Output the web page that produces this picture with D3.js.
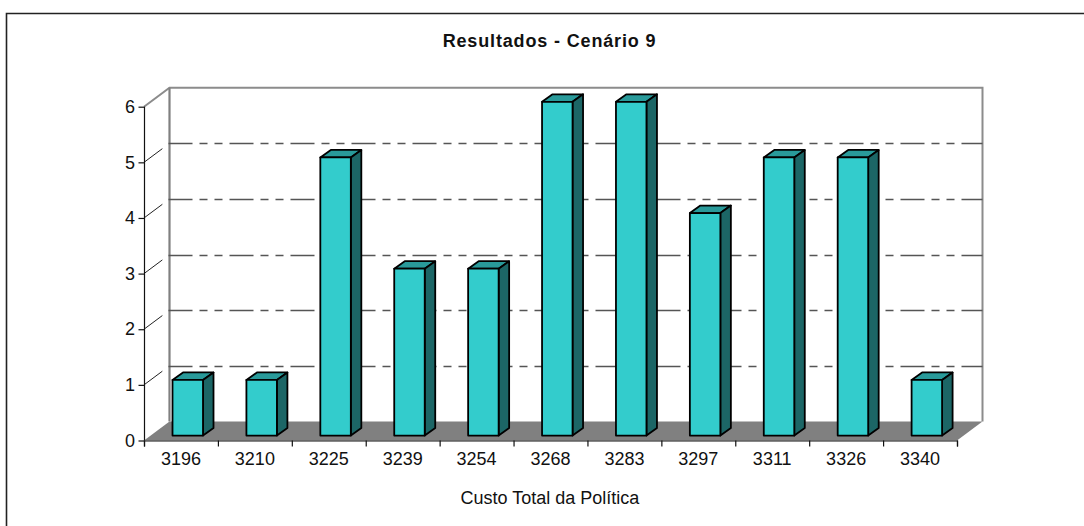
<!DOCTYPE html>
<html>
<head>
<meta charset="utf-8">
<script src="https://cdn.jsdelivr.net/npm/d3@7"></script>
<style>
  html, body { margin: 0; padding: 0; background: #fff; }
  svg { display: block; }
  text { font-family: "Liberation Sans", Arial, sans-serif; fill: #111; }
</style>
</head>
<body>
<svg id="chart" width="1084" height="526"></svg>
<script>
// Histogram of total policy cost, drawn as a pseudo-3D column chart.
const categories = ["3196","3210","3225","3239","3254","3268","3283","3297","3311","3326","3340"];
const counts = [1, 1, 5, 3, 3, 6, 6, 4, 5, 5, 1];
const valueTicks = [0, 1, 2, 3, 4, 5, 6];
const chartTitle = "Resultados - Cenário 9";
const axisTitle = "Custo Total da Política";

const frontLeft = 144, frontRight = 957, frontBase = 440.5, frontTop = 106.7;
const wallDx = 25.5, wallDy = -19;          // offset of the back wall from the front plane
const barShiftX = 6.8, barShiftY = -4.9;    // bars stand slightly behind the front plane
const barWidth = 30.5, barDx = 10.5, barDy = -7.5;

const svg = d3.select("#chart");
const x = d3.scaleBand().domain(categories).range([frontLeft, frontRight]);
const xEdges = d3.scalePoint().domain(d3.range(categories.length + 1)).range([frontLeft, frontRight]);
const y = d3.scaleLinear().domain([0, 6]).range([frontBase, frontTop]);

// Chart frame: only the top and left edges fall inside the page
svg.append("path")
  .attr("d", "M6.5,526V13.5H1084")
  .attr("fill", "none").attr("stroke", "#222").attr("stroke-width", 1.6);

// Floor
const pts = a => a.map(p => p.join(",")).join(" ");
svg.append("polygon")
  .attr("points", pts([
    [frontLeft, frontBase], [frontRight, frontBase],
    [frontRight + wallDx, frontBase + wallDy], [frontLeft + wallDx, frontBase + wallDy]
  ]))
  .attr("fill", "#808080");

// Back wall outline and its slanted top-left edge
svg.append("path")
  .attr("d", `M${frontLeft},${y(6)}L${frontLeft + wallDx},${y(6) + wallDy}H${frontRight + wallDx}V${frontBase + wallDy}`)
  .attr("fill", "none").attr("stroke", "#8c8c8c").attr("stroke-width", 2);
svg.append("line")
  .attr("x1", frontLeft + wallDx).attr("x2", frontLeft + wallDx)
  .attr("y1", y(6) + wallDy).attr("y2", frontBase + wallDy)
  .attr("stroke", "#808080").attr("stroke-width", 2.2);

// Dashed gridlines on the back wall
svg.append("g").selectAll("line")
  .data(valueTicks.filter(v => v > 0 && v < 6))
  .join("line")
  .attr("x1", frontLeft + wallDx - 1).attr("x2", frontRight + wallDx)
  .attr("y1", d => Math.round(y(d) + wallDy) + 0.5).attr("y2", d => Math.round(y(d) + wallDy) + 0.5)
  .attr("stroke", "#555").attr("stroke-width", 1.3)
  .attr("stroke-dasharray", "24 7 8 7 8 7");

// Slanted tick marks joining the value axis to the wall
svg.append("g").selectAll("line")
  .data(valueTicks.filter(v => v > 0 && v < 6))
  .join("line")
  .attr("x1", frontLeft).attr("x2", frontLeft + wallDx * 0.72)
  .attr("y1", d => y(d)).attr("y2", d => y(d) + wallDy * 0.72)
  .attr("stroke", "#222").attr("stroke-width", 1);

// Value axis
const yAxis = svg.append("g")
  .attr("transform", `translate(${frontLeft + 0.5},0)`)
  .call(d3.axisLeft(y).tickValues(valueTicks).tickSize(6).tickPadding(3.5).tickFormat(d3.format("d")));
yAxis.selectAll("text").attr("font-size", 18).style("font-family", '"Liberation Sans"');
yAxis.selectAll("line, path").attr("stroke", "#111").attr("stroke-width", 1.2);
yAxis.select(".domain").attr("d", `M0,${frontTop}V${frontBase}`);

// Category axis: ticks on the band edges, labels on the band centres
const xTicks = svg.append("g")
  .attr("transform", `translate(0,${frontBase})`)
  .call(d3.axisBottom(xEdges).tickSize(6).tickFormat(""));
xTicks.selectAll("line, path").attr("stroke", "#111").attr("stroke-width", 1.2);
const xLabels = svg.append("g")
  .attr("transform", `translate(0,${frontBase})`)
  .call(d3.axisBottom(x).tickSize(0).tickPadding(12));
xLabels.select(".domain").remove();
xLabels.selectAll("text").attr("font-size", 18).style("font-family", '"Liberation Sans"');

// Columns: top, side and front faces
const bars = svg.append("g").selectAll("g")
  .data(categories.map((c, i) => ({ c, v: counts[i] })))
  .join("g");
const left = d => x(d.c) + x.bandwidth() / 2 - barWidth / 2 + barShiftX;
const top_ = d => y(d.v) + barShiftY;
const base = frontBase + barShiftY;
const face = (fill, pointsOf) => bars.append("polygon")
  .attr("points", d => pts(pointsOf(d)))
  .attr("fill", fill)
  .attr("stroke", "#000").attr("stroke-width", 1.8).attr("stroke-linejoin", "round");
face("#299a9a", d => [
  [left(d), top_(d)], [left(d) + barWidth, top_(d)],
  [left(d) + barWidth + barDx, top_(d) + barDy], [left(d) + barDx, top_(d) + barDy]
]);
face("#1c6666", d => [
  [left(d) + barWidth, top_(d)], [left(d) + barWidth + barDx, top_(d) + barDy],
  [left(d) + barWidth + barDx, base + barDy], [left(d) + barWidth, base]
]);
face("#33cccc", d => [
  [left(d), top_(d)], [left(d) + barWidth, top_(d)],
  [left(d) + barWidth, base], [left(d), base]
]);

// Titles
svg.append("text").attr("x", 549.5).attr("y", 47)
  .attr("text-anchor", "middle").attr("font-size", 18).attr("font-weight", "bold")
  .attr("letter-spacing", 0.85).text(chartTitle);
svg.append("text").attr("x", 550).attr("y", 504)
  .attr("text-anchor", "middle").attr("font-size", 18).text(axisTitle);
</script>
</body>
</html>
